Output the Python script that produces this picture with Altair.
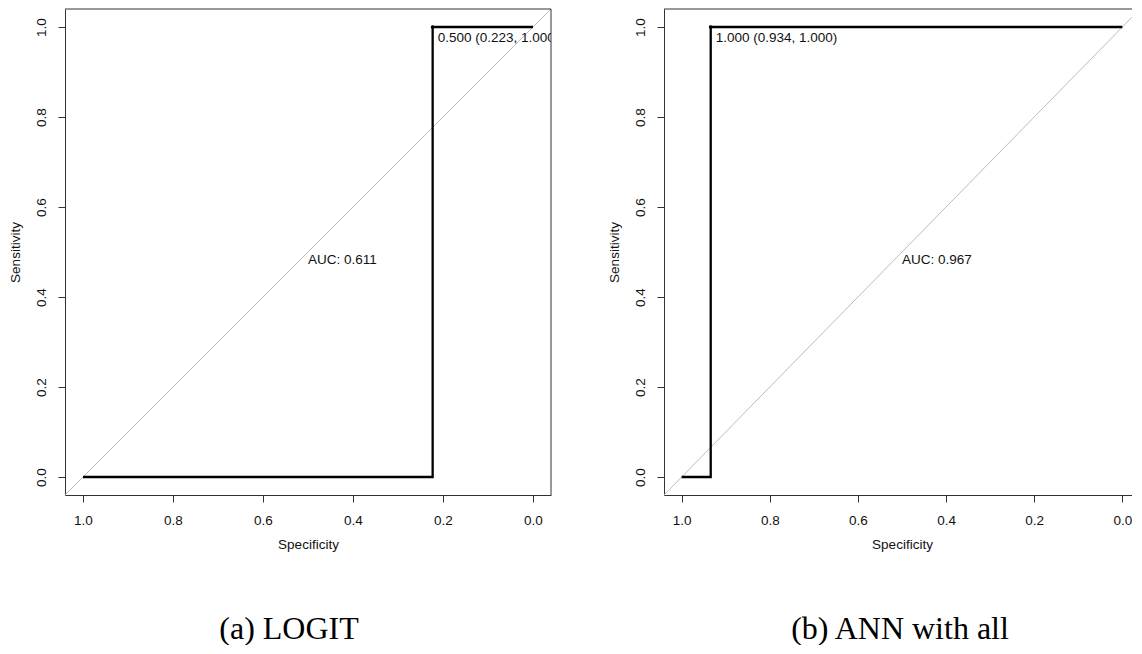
import altair as alt
import pandas as pd

# ---------------- data ----------------
TICKS = [0.0, 0.2, 0.4, 0.6, 0.8, 1.0]

# Panel (a) LOGIT
LOGIT_SPEC = [1.0, 0.223, 0.223, 0.0]
LOGIT_SENS = [0.0, 0.0, 1.0, 1.0]
LOGIT_THR_SPEC = [0.223]
LOGIT_THR_SENS = [1.0]
LOGIT_THR_LABEL = ["0.500 (0.223, 1.000)"]
LOGIT_AUC_LABEL = ["AUC: 0.611"]
LOGIT_CAPTION = "(a) LOGIT"

# Panel (b) ANN with all
ANN_SPEC = [1.0, 0.934, 0.934, 0.0]
ANN_SENS = [0.0, 0.0, 1.0, 1.0]
ANN_THR_SPEC = [0.934]
ANN_THR_SENS = [1.0]
ANN_THR_LABEL = ["1.000 (0.934, 1.000)"]
ANN_AUC_LABEL = ["AUC: 0.967"]
ANN_CAPTION = "(b) ANN with all"

# chance diagonal (spans the whole plotting region)
DIAG_SPEC = [1.04, -0.04]
DIAG_SENS = [-0.04, 1.04]

# AUC label anchor (data coordinates)
AUC_SPEC = [0.5]
AUC_SENS = [0.5]

# axis limits (R style 4% extension)
Y_DOMAIN = [-0.04, 1.04]
X_DOMAIN = [1.04, -0.04]
TOP_EDGE = [1.04]
RIGHT_EDGE = [-0.04]

PX_PER_UNIT = 450
FONT = "Liberation Sans"
FS = 13.5
BOX = "#333333"


def panel(spec, sens, thr_spec, thr_sens, thr_label, auc_label, caption,
          cap_dx, x_px_per_unit):
    width = round((X_DOMAIN[0] - X_DOMAIN[1]) * x_px_per_unit)
    height = round((Y_DOMAIN[1] - Y_DOMAIN[0]) * PX_PER_UNIT)

    x = alt.X(
        "spec:Q",
        scale=alt.Scale(domain=X_DOMAIN, nice=False, zero=False),
        axis=alt.Axis(values=TICKS, format=".1f", title="Specificity",
                      tickSize=7, labelPadding=11, titlePadding=11,
                      grid=False, labelFlush=False, labelOverlap=False),
    )
    y = alt.Y(
        "sens:Q",
        scale=alt.Scale(domain=Y_DOMAIN, nice=False, zero=False),
        axis=alt.Axis(values=TICKS, format=".1f", title="Sensitivity",
                      tickSize=7, labelAngle=270, labelAlign="center",
                      labelBaseline="bottom", labelPadding=10,
                      titlePadding=12, grid=False, labelFlush=False,
                      labelOverlap=False),
    )

    roc = pd.DataFrame({"spec": spec, "sens": sens,
                        "order": list(range(len(spec)))})
    diag = pd.DataFrame({"spec": DIAG_SPEC, "sens": DIAG_SENS,
                         "order": [0, 1]})
    thr = pd.DataFrame({"spec": thr_spec, "sens": thr_sens,
                        "label": thr_label})
    auc = pd.DataFrame({"spec": AUC_SPEC, "sens": AUC_SENS,
                        "label": auc_label})

    layers = [
        alt.Chart(diag).mark_line(color="#b4b4b4", strokeWidth=0.9, clip=True)
        .encode(x=x, y=y, order="order:Q"),
        alt.Chart(roc).mark_line(color="black", strokeWidth=2.3, clip=True)
        .encode(x=x, y=y, order="order:Q"),
        alt.Chart(thr).mark_point(filled=True, size=14, color="black",
                                  opacity=1)
        .encode(x=x, y=y),
        alt.Chart(thr).mark_text(align="left", baseline="top", dx=5, dy=4,
                                 font=FONT, fontSize=FS, color="#111111",
                                 clip=True)
        .encode(x=x, y=y, text="label:N"),
        alt.Chart(auc).mark_text(align="left", baseline="top", dx=0, dy=1,
                                 font=FONT, fontSize=FS, color="#111111")
        .encode(x=x, y=y, text="label:N"),
        alt.Chart(pd.DataFrame({"sens": TOP_EDGE}))
        .mark_rule(color=BOX, strokeWidth=1)
        .encode(y=y),
        alt.Chart(pd.DataFrame({"spec": RIGHT_EDGE}))
        .mark_rule(color=BOX, strokeWidth=1)
        .encode(x=x),
    ]

    return alt.layer(*layers).properties(
        width=width,
        height=height,
        title=alt.TitleParams(
            caption, orient="bottom", anchor="middle", frame="group",
            font="Liberation Serif", fontSize=32, fontWeight="normal",
            color="black", baseline="top", offset=63, dx=cap_dx,
        ),
    )


left = panel(LOGIT_SPEC, LOGIT_SENS, LOGIT_THR_SPEC, LOGIT_THR_SENS,
             LOGIT_THR_LABEL, LOGIT_AUC_LABEL, LOGIT_CAPTION, -19,
             PX_PER_UNIT)
# the right panel is a touch narrower so its last tick label stays on screen
right = panel(ANN_SPEC, ANN_SENS, ANN_THR_SPEC, ANN_THR_SENS,
              ANN_THR_LABEL, ANN_AUC_LABEL, ANN_CAPTION, -2, 441)

# negative right padding crops the figure at the window edge like the reference
chart = (
    alt.hconcat(left, right, spacing=55)
    .properties(padding={"left": 0, "top": 0, "right": -9, "bottom": 0},
                background="white")
    .configure_view(stroke=None)
    .configure_axis(
        labelFont=FONT, titleFont=FONT, labelFontSize=FS, titleFontSize=FS,
        titleFontWeight="normal", labelColor="#111111", titleColor="#111111",
        domainColor=BOX, domainWidth=1, tickColor=BOX, tickWidth=1,
    )
)

chart.save("out.html", embed_options={"renderer": "svg", "actions": False})
